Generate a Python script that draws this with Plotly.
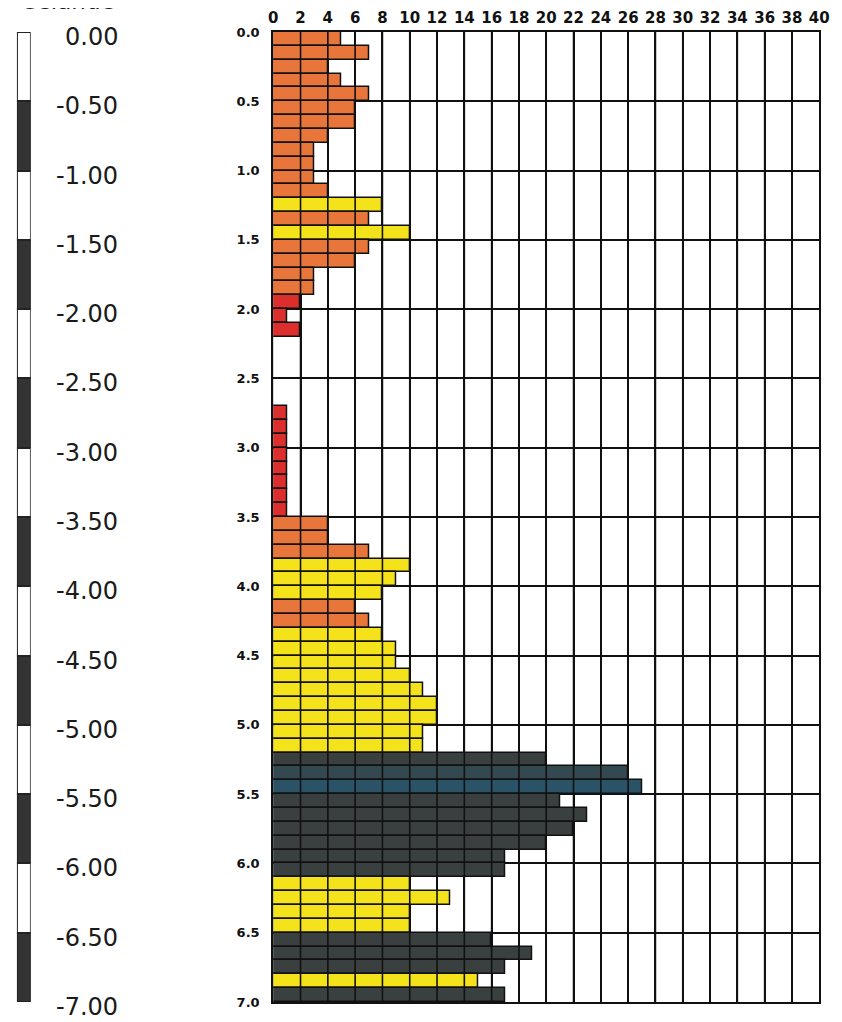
import plotly.graph_objects as go

# ---- data -------------------------------------------------------------
depth_top = [round(i * 0.1, 1) for i in range(70)]          # top of each 10 cm step (m)
blows = [5, 7, 4, 5, 7, 6, 6, 4, 3, 3,
         3, 4, 8, 7, 10, 7, 6, 3, 3, 2,
         1, 2, 0, 0, 0, 0, 0, 1, 1, 1,
         1, 1, 1, 1, 1, 4, 4, 7, 10, 9,
         8, 6, 7, 8, 9, 9, 10, 11, 12, 12,
         11, 11, 20, 26, 27, 21, 23, 22, 20, 17,
         17, 10, 13, 10, 10, 16, 19, 17, 15, 17]
classes = ["O", "O", "O", "O", "O", "O", "O", "O", "O", "O",
           "O", "O", "Y", "O", "Y", "O", "O", "O", "O", "R",
           "R", "R", "R", "R", "R", "R", "R", "R", "R", "R",
           "R", "R", "R", "R", "R", "O", "O", "O", "Y", "Y",
           "Y", "O", "O", "Y", "Y", "Y", "Y", "Y", "Y", "Y",
           "Y", "Y", "D", "T", "B", "D", "D", "D", "D", "D",
           "D", "Y", "Y", "Y", "Y", "D", "D", "D", "Y", "D"]
class_colors = {"O": "#E8763A", "Y": "#F4E31A", "R": "#DD2E2E",
                "D": "#3A4040", "T": "#33494F", "B": "#2B5367"}

x_ticks = list(range(0, 41, 2))
depth_ticks = [i * 0.5 for i in range(15)]
depth_tick_text = [f"{d:.1f}" for d in depth_ticks]
level_text = ["0.00"] + [f"-{d:.2f}" for d in depth_ticks[1:]]
column_segments = [i * 0.5 + 0.25 for i in range(14)]
column_colors = ["#FFFFFF" if i % 2 == 0 else "#333333" for i in range(14)]
title_text = "- Celande"

# ---- figure -----------------------------------------------------------
# page body has an 8px margin, so figure coords = picture coords - 8
W, H = 834, 1014
MT, MB = 24, 20
PH = H - MT - MB

fig = go.Figure()

fig.add_trace(go.Bar(
    orientation="h",
    x=blows,
    y=[d + 0.05 for d in depth_top],
    width=0.1,
    marker=dict(color=[class_colors[c] for c in classes],
                line=dict(color="#111111", width=1.5)),
    xaxis="x", yaxis="y", showlegend=False, hoverinfo="x+y",
))

fig.add_trace(go.Bar(
    orientation="h",
    x=[1] * len(column_segments),
    y=column_segments,
    width=0.5,
    marker=dict(color=column_colors, line=dict(color="#222222", width=2)),
    xaxis="x2", yaxis="y2", showlegend=False, hoverinfo="skip",
))

shapes = []
for xv in x_ticks[1:-1]:
    shapes.append(dict(type="line", xref="x", yref="paper", x0=xv, x1=xv, y0=0, y1=1,
                       line=dict(color="#111111", width=1.6), layer="above"))

annotations = [dict(text=title_text, xref="paper", yref="paper",
                    x=106 / W, y=(H - MB - 8) / PH, xanchor="right", yanchor="bottom",
                    showarrow=False, font=dict(size=23, family="DejaVu Sans", color="#1a1a1a"))]
for d, t in zip(depth_ticks, level_text):
    annotations.append(dict(text=t, xref="paper", yref="y", x=109 / W, y=d,
                            xanchor="right", yanchor="middle", yshift=-5, showarrow=False,
                            font=dict(size=24, family="DejaVu Sans", color="#1a1a1a")))

fig.update_layout(
    width=W, height=H,
    margin=dict(l=0, r=0, t=MT, b=MB),
    paper_bgcolor="white", plot_bgcolor="white",
    bargap=0,
    font=dict(family="DejaVu Sans", color="#1a1a1a"),
    shapes=shapes,
    annotations=annotations,
    xaxis=dict(domain=[265 / W, 821 / W], range=[0, 40], side="top",
               tickvals=x_ticks, ticktext=[str(v) for v in x_ticks],
               tickfont=dict(size=15, family="DejaVu Sans", color="#111111", weight="bold"),
               ticks="", ticklabelstandoff=1,
               showgrid=True, gridcolor="#111111", gridwidth=1.6,
               showline=True, linecolor="#111111", linewidth=2, mirror=True,
               zeroline=False, fixedrange=True, anchor="y"),
    yaxis=dict(range=[7, 0], tickvals=depth_ticks, ticktext=depth_tick_text,
               tickfont=dict(size=13, family="DejaVu Sans", color="#111111", weight="bold"),
               ticks="", ticklabelstandoff=9, ticklabeloverflow="allow",
               showgrid=True, gridcolor="#111111", gridwidth=1.6,
               showline=True, linecolor="#111111", linewidth=2, mirror=True,
               zeroline=False, fixedrange=True, anchor="x"),
    xaxis2=dict(domain=[4 / W, 18 / W], range=[0, 1], visible=False, anchor="y2"),
    yaxis2=dict(range=[7, 0], anchor="x2", visible=False, fixedrange=True),
)

fig.write_html("out.html")
